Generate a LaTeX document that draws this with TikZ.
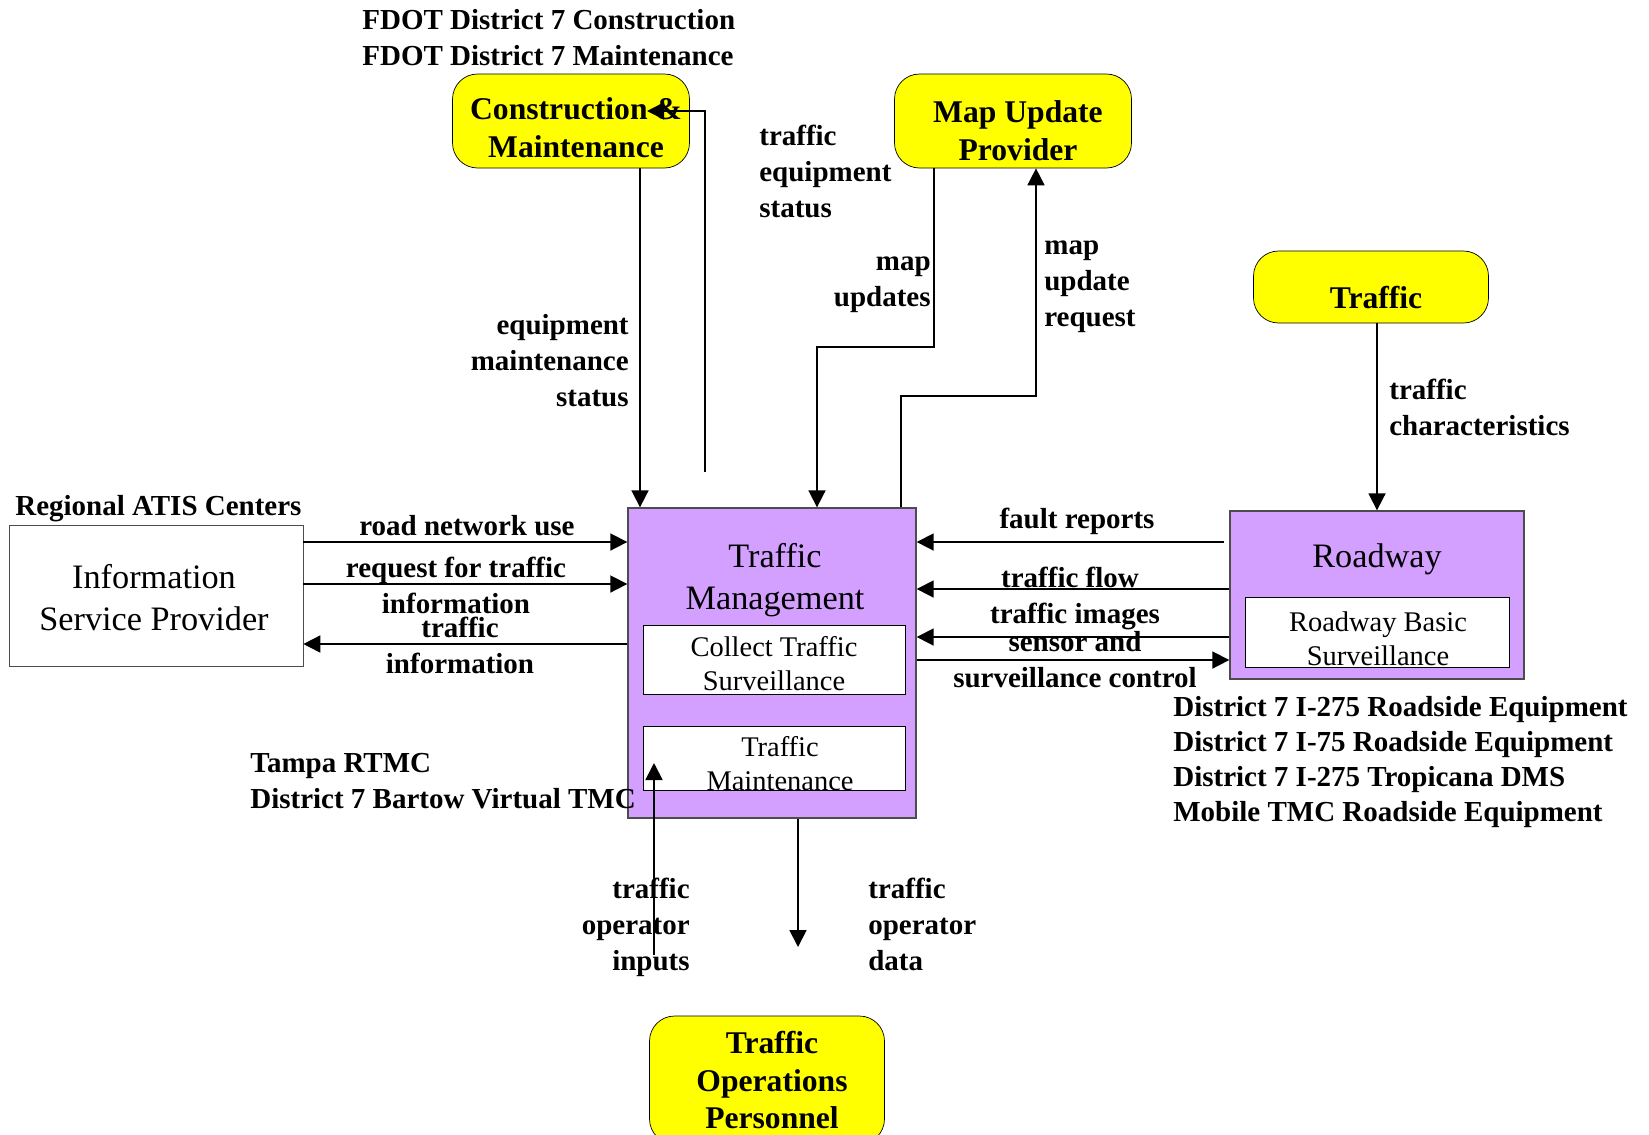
\documentclass[tikz,border=0pt]{standalone}
\usepackage{fontspec}
\setmainfont{Liberation Serif}
\usetikzlibrary{arrows.meta}
\usetikzlibrary{positioning}

\definecolor{tmpurple}{RGB}{212,160,255}
\definecolor{termyellow}{RGB}{255,255,0}
\newcommand\lblfont{\fontsize{16.5}{20.5}\selectfont\bfseries}
\newcommand\ttlfont{\fontsize{18}{21.6}\selectfont\bfseries}
\newcommand\bigfont{\fontsize{19.5}{23.9}\selectfont}
\newcommand\subfont{\fontsize{16.2}{19.4}\selectfont}

\begin{document}
\begin{tikzpicture}[x=0.02cm, y=-0.02cm,
    term/.style={draw, fill=termyellow, rounded corners=0.5cm},
    ttl/.style={align=center, font=\ttlfont, inner sep=0pt},
    subsys/.style={draw=black!70, fill=tmpurple, line width=0.8pt},
    inbox/.style={draw, fill=white},
    txt/.style={align=center, inner sep=0pt},
    lbl/.style={font=\lblfont, inner sep=0pt},
    flow/.style={-{Triangle[length=0.34cm,width=0.34cm]}, line width=1pt}]
  \useasboundingbox (0,0) rectangle (1649,1134);

  % terminators
  \node [term, minimum width=4.74cm, minimum height=1.88cm] (cm) at (571,121) {};
  \node [ttl] (cmtxt) at (576,128) {Construction \&\\Maintenance};
  \node [term, minimum width=4.74cm, minimum height=1.88cm] (mup) at (1013,121) {};
  \node [ttl] (muptxt) at (1018,131) {Map Update\\Provider};
  \node [term, minimum width=4.7cm, minimum height=1.44cm] (trf) at (1371,287) {};
  \node [ttl] (trftxt) at (1376,298) {Traffic};
  \node [term, minimum width=4.7cm, minimum height=2.56cm] (top) at (767,1080) {};
  \node [ttl] (toptxt) at (772,1080) {Traffic\\Operations\\Personnel};

  % subsystems
  \node [subsys, minimum width=5.76cm, minimum height=6.2cm] (tm) at (772,663) {};
  \node [txt, font=\bigfont] (tmtxt) at (775,580) {Traffic\\Management};
  \node [inbox, minimum width=5.24cm, minimum height=1.38cm] (cts) at (774,659.5) {};
  \node [txt, font=\subfont] (ctstxt) at (774,664) {Collect Traffic\\Surveillance};
  \node [inbox, minimum width=5.24cm, minimum height=1.28cm] (tmt) at (774,758) {};
  \node [txt, font=\subfont] (tmttxt) at (780,764) {Traffic\\Maintenance};
  \node [subsys, minimum width=5.88cm, minimum height=3.36cm] (rdw) at (1377,595) {};
  \node [txt, font=\bigfont] (rdwtxt) at (1377,559) {Roadway};
  \node [inbox, minimum width=5.28cm, minimum height=1.4cm] (rbs) at (1377,632) {};
  \node [txt, font=\subfont] (rbstxt) at (1378,639) {Roadway Basic\\Surveillance};
  \node [draw=black!70, fill=white, minimum width=5.88cm, minimum height=2.82cm] (isp) at (156,595.5) {};
  \node [txt, font=\bigfont] (isptxt) at (154,598) {Information\\Service Provider};

  % owners
  \node [lbl, anchor=west, align=left] (hdr) at (362,38) {FDOT District 7 Construction\\FDOT District 7 Maintenance};
  \node [lbl, anchor=base west] (ratis) at (15,515) {Regional ATIS Centers};
  \node [lbl, anchor=west, align=left, font=\fontsize{16.5}{19.9}\selectfont\bfseries] (dist) at (1173,762) {District 7 I-275 Roadside Equipment\\District 7 I-75 Roadside Equipment\\District 7 I-275 Tropicana DMS\\Mobile TMC Roadside Equipment};
  \node [lbl, anchor=west, align=left] (tampa) at (250,781) {Tampa RTMC\\District 7 Bartow Virtual TMC};

  % flows
  \draw [flow] (cm.south -| 640,0) -- (tm.north -| 640,0);
  \coordinate (tesfoot) at (705,472);
  \coordinate (testip) at (647,111);
  \draw [flow] (tesfoot) |- (testip);
  \draw [flow] (mup.south -| 934,0) |- (817,347) -- (tm.north -| 817,0);
  \draw [flow] (tm.north -| 901,0) |- (1036,396) -- (mup.south -| 1036,0);
  \draw [flow] (trf.south -| rdw.north) -- (rdw.north);
  \coordinate (frtail) at (1224,542);
  \draw [flow] (frtail) -- (tm.east |- frtail);
  \draw [flow] (rdw.west |- 0,589) -- (tm.east |- 0,589);
  \draw [flow] (rdw.west |- 0,637) -- (tm.east |- 0,637);
  \draw [flow] (tm.east |- 0,660) -- (rdw.west |- 0,660);
  \draw [flow] (isp.east |- 0,542) -- (tm.west |- 0,542);
  \draw [flow] (isp.east |- 0,584) -- (tm.west |- 0,584);
  \draw [flow] (tm.west |- 0,644) -- (isp.east |- 0,644);
  \coordinate (toifoot) at (654,955);
  \coordinate (toitip) at (654,763);
  \draw [flow] (toifoot) -- (toitip);
  \coordinate (todtip) at (798,947);
  \draw [flow] (tm.south -| todtip) -- (todtip);

  % flow labels
  \node [lbl, anchor=west, align=left] (tes) at (759,171) {traffic\\equipment\\status};
  \node [lbl, anchor=east, align=right] (mu) at (931,285) {map\\updates};
  \node [lbl, anchor=west, align=left] (mur) at (1044,287) {map\\update\\request};
  \node [lbl, anchor=east, align=right] (eqms) at (629,361) {equipment\\maintenance\\status};
  \node [lbl, anchor=west, align=left] (tc) at (1389,407) {traffic\\characteristics};
  \node [lbl, anchor=base] (rnu) at (467,535) {road network use};
  \node [lbl, align=center] (rfti) at (456,585) {request for traffic\\information};
  \node [lbl, align=center] (ti) at (460,645) {traffic\\information};
  \node [lbl, anchor=base] (fr) at (1077,528) {fault reports};
  \node [lbl, anchor=base] (tf) at (1070,587) {traffic flow};
  \node [lbl, anchor=base] (timg) at (1075,623) {traffic images};
  \node [lbl, align=center] (sasc) at (1075,660) {sensor and\\surveillance control};
  \node [lbl, anchor=east, align=right] (toi) at (690,927) {traffic\\operator\\inputs};
  \node [lbl, anchor=west, align=left] (tod) at (868,924) {traffic\\operator\\data};
\end{tikzpicture}
\end{document}
